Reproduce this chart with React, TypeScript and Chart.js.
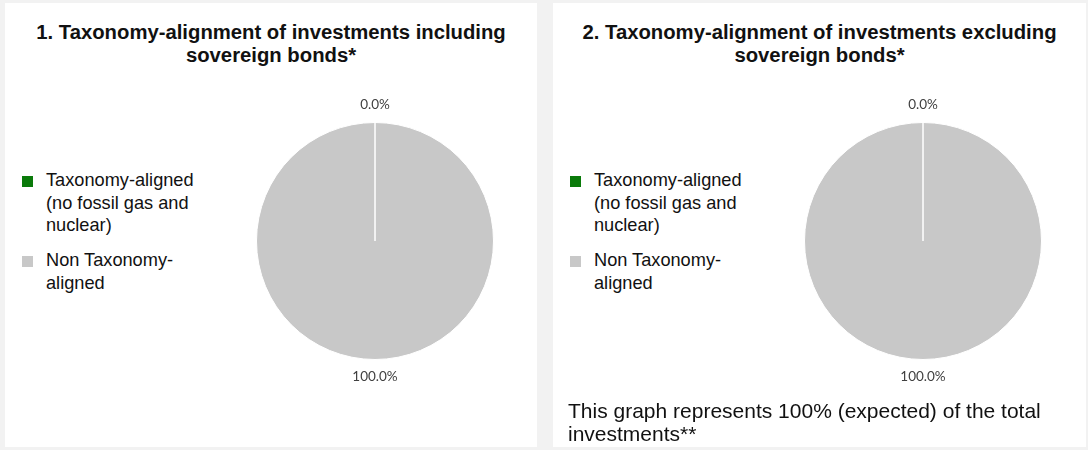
import React, { useEffect, useRef } from "react";
import { Chart, registerables } from "chart.js";

Chart.register(...registerables);

// ---- data ----
const categories = ["Taxonomy-aligned (no fossil gas and nuclear)", "Non Taxonomy-aligned"];
const includingSovereignBonds = [0, 100];
const excludingSovereignBonds = [0, 100];
const chartTitles = [
  "1. Taxonomy-alignment of investments including sovereign bonds*",
  "2. Taxonomy-alignment of investments excluding sovereign bonds*",
];
const footNote = "This graph represents 100% (expected) of the total investments**";

// ---- styles ----
const sliceColors = ["#0a7a0a", "#c8c8c8"];
const FONT = '"Liberation Sans", Arial, sans-serif';

const pctLabelPlugin = {
  id: "pctLabels",
  afterDatasetsDraw(chart: any) {
    const ctx = chart.ctx;
    const ds = chart.data.datasets[0];
    const total = ds.data.reduce((a: number, b: number) => a + b, 0);
    const meta = chart.getDatasetMeta(0);
    ctx.save();
    ctx.font = '13.5px Lato, "Open Sans", sans-serif';
    ctx.fillStyle = "#404040";
    ctx.textAlign = "center";
    ctx.textBaseline = "middle";
    meta.data.forEach((arc: any, i: number) => {
      const p = arc.getProps(["x", "y", "startAngle", "endAngle", "outerRadius"], true);
      const mid = (p.startAngle + p.endAngle) / 2;
      const r = p.outerRadius + 17.5;
      const v = total ? (ds.data[i] / total) * 100 : 0;
      ctx.fillText(v.toFixed(1) + "%", p.x + Math.cos(mid) * r, p.y + Math.sin(mid) * r);
    });
    ctx.restore();
  },
};

function PieChart({ values, left, top }: { values: number[]; left: number; top: number }) {
  const ref = useRef<HTMLCanvasElement | null>(null);
  useEffect(() => {
    if (!ref.current) return;
    const chart = new Chart(ref.current, {
      type: "pie",
      data: {
        labels: categories,
        datasets: [
          {
            data: values,
            backgroundColor: sliceColors,
            borderColor: "#ffffff",
            borderWidth: 1,
          },
        ],
      },
      options: {
        animation: false,
        responsive: false,
        layout: { padding: 40 },
        plugins: {
          legend: { display: false },
          tooltip: { enabled: false },
          title: { display: false },
        },
      },
      plugins: [pctLabelPlugin],
    });
    return () => chart.destroy();
  }, [values]);
  return (
    <canvas
      ref={ref}
      width={318}
      height={318}
      style={{ position: "absolute", left, top, width: 318, height: 318 }}
    />
  );
}

function Legend({ left }: { left: number }) {
  const tops = [169, 249];
  return (
    <>
      {categories.map((c, i) => (
        <div key={c}>
          <div
            style={{
              position: "absolute",
              left: left,
              top: tops[i] + 6.5,
              width: 11,
              height: 11,
              background: sliceColors[i],
            }}
          />
          <div
            style={{
              position: "absolute",
              left: left + 24,
              top: tops[i],
              width: 170,
              fontFamily: FONT,
              fontSize: 18.2,
              lineHeight: "22.5px",
              color: "#111",
            }}
          >
            {c}
          </div>
        </div>
      ))}
    </>
  );
}

function Panel({ left, width, title }: { left: number; width: number; title: string }) {
  return (
    <div
      style={{
        position: "absolute",
        left,
        top: 3,
        width,
        height: 444,
        background: "#ffffff",
      }}
    >
      <div
        style={{
          position: "absolute",
          left: 10,
          right: 10,
          top: 18,
          textAlign: "center",
          fontFamily: FONT,
          fontWeight: "bold",
          fontSize: 20.3,
          lineHeight: "23px",
          color: "#111",
        }}
      >
        {title}
      </div>
    </div>
  );
}

export default function App() {
  useEffect(() => {
    document.body.style.margin = "0";
  }, []);
  return (
    <div
      style={{
        position: "fixed",
        left: 0,
        top: 0,
        width: 1088,
        height: 450,
        background: "#f2f2f2",
        overflow: "hidden",
      }}
    >
      <Panel left={5} width={532} title={chartTitles[0]} />
      <Panel left={553} width={533} title={chartTitles[1]} />
      <Legend left={22} />
      <Legend left={570} />
      <PieChart values={includingSovereignBonds} left={216} top={82} />
      <PieChart values={excludingSovereignBonds} left={764} top={82} />
      <div
        style={{
          position: "absolute",
          left: 568,
          top: 399,
          width: 510,
          fontFamily: FONT,
          fontSize: 21,
          lineHeight: "23px",
          color: "#111",
        }}
      >
        {footNote}
      </div>
    </div>
  );
}
